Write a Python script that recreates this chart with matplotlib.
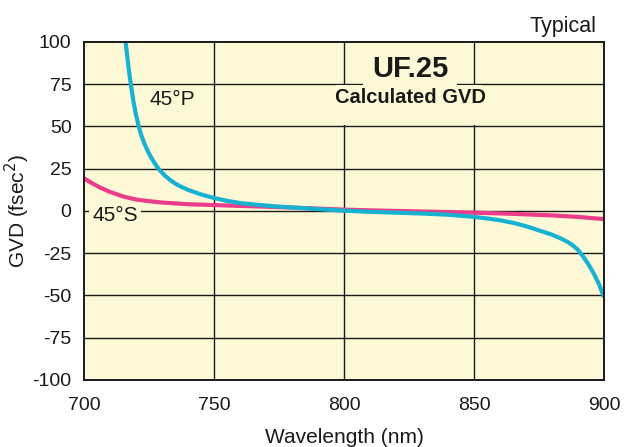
import matplotlib
matplotlib.use("Agg")
import matplotlib.pyplot as plt
from matplotlib.patches import Rectangle

plt.rcParams['font.family'] = ['Liberation Sans', 'DejaVu Sans']

# GVD curves (fsec^2) vs wavelength (nm)
p_wl = [716, 717, 718, 719, 720, 721, 722, 723, 724, 725, 726, 727, 728, 729, 731,
        733, 735, 737, 740, 745, 750, 755, 760, 767, 775, 783, 790, 800, 810, 820, 830,
        840, 850, 855, 860, 865, 870, 875, 880, 883, 886, 888, 890, 892, 894, 896,
        898, 900]
p_gvd = [100, 86.5, 75, 65, 57, 50.3, 45, 40.8, 37.2, 34, 31.2, 28.7, 26.4,
         24.4, 21.1, 18.5, 16.3, 14.6, 12.5, 9.8, 7.7, 6.0, 4.7, 3.6, 2.6, 1.8, 1.1, 0.2,
         -0.5, -1.0, -1.5, -2.2, -3.5, -4.4, -5.5, -7, -9, -11.5, -14, -16, -18.3, -20.3,
         -23, -27, -31.5, -36.8, -43, -51]

s_wl = [700, 703, 706, 710, 715, 720, 725, 730, 740, 750, 760, 775, 790, 800,
        815, 830, 850, 865, 880, 890, 900]
s_gvd = [19.3, 16.5, 14, 11.3, 8.6, 6.8, 5.8, 5.0, 4.0, 3.5, 3.0, 2.3, 1.4, 0.8,
         0.2, -0.3, -1.0, -1.7, -2.6, -3.5, -4.8]

x_ticks = [700, 750, 800, 850, 900]
y_ticks = [100, 75, 50, 25, 0, -25, -50, -75, -100]

bg = '#fdf9d7'
cyan = '#17b2d2'
pink = '#eb3d8c'
ink = '#1a1a1a'

fig = plt.figure(figsize=(6.24, 4.47), dpi=100)
ax = fig.add_axes([0.1346, 0.1499, 0.8333, 0.7562])
ax.set_facecolor(bg)

for v in x_ticks[1:-1]:
    ax.axvline(v, color=ink, lw=1.0, zorder=1)
for v in y_ticks[1:-1]:
    ax.axhline(v, color=ink, lw=1.0, zorder=1)

# blank cell behind the subtitle
ax.add_patch(Rectangle((797, 50.6), 56, 23.8, facecolor=bg, edgecolor='none', zorder=2))

ax.plot(p_wl, p_gvd, color=cyan, lw=3.0, solid_capstyle='butt', zorder=4)
ax.plot(s_wl, s_gvd, color=pink, lw=3.0, solid_capstyle='butt', zorder=3)

ax.set_xlim(700, 900)
ax.set_ylim(-100, 100)
ax.set_xticks(x_ticks)
ax.set_yticks(y_ticks)
ax.set_xticklabels([str(v) for v in x_ticks], fontsize=14)
ax.set_yticklabels([str(v) for v in y_ticks], fontsize=14)
ax.tick_params(axis='both', length=0, colors=ink)
ax.tick_params(axis='x', pad=12)
ax.tick_params(axis='y', pad=9)
for s in ax.spines.values():
    s.set_linewidth(1.4)
    s.set_color(ink)
    s.set_zorder(5)

ax.set_xlabel('Wavelength (nm)', fontsize=15, color=ink, labelpad=10)
ax.set_ylabel('GVD (fsec$^2$)', fontsize=15, color=ink, labelpad=0)

ax.text(825.4, 79.3, 'UF.25', fontsize=21, fontweight='bold', ha='center', va='baseline',
        color=ink, zorder=6,
        bbox=dict(boxstyle='square,pad=0.3', facecolor=bg, edgecolor='none'))
ax.text(825.4, 64.1, 'Calculated GVD', fontsize=14.5, fontweight='bold', ha='center',
        va='baseline', color=ink, zorder=6)
ax.text(734, 65.7, '45°P', fontsize=15, ha='center', va='center', color=ink, zorder=6)
ax.text(712, -2.4, '45°S', fontsize=15, ha='center', va='center', color=ink, zorder=6,
        bbox=dict(boxstyle='square,pad=0.15', facecolor=bg, edgecolor='none'))

fig.text(597 / 624, 1 - 31.7 / 447, 'Typical', fontsize=15.5, ha='right', va='baseline',
         color=ink)

fig.savefig('out.png', dpi=100, facecolor='white')
